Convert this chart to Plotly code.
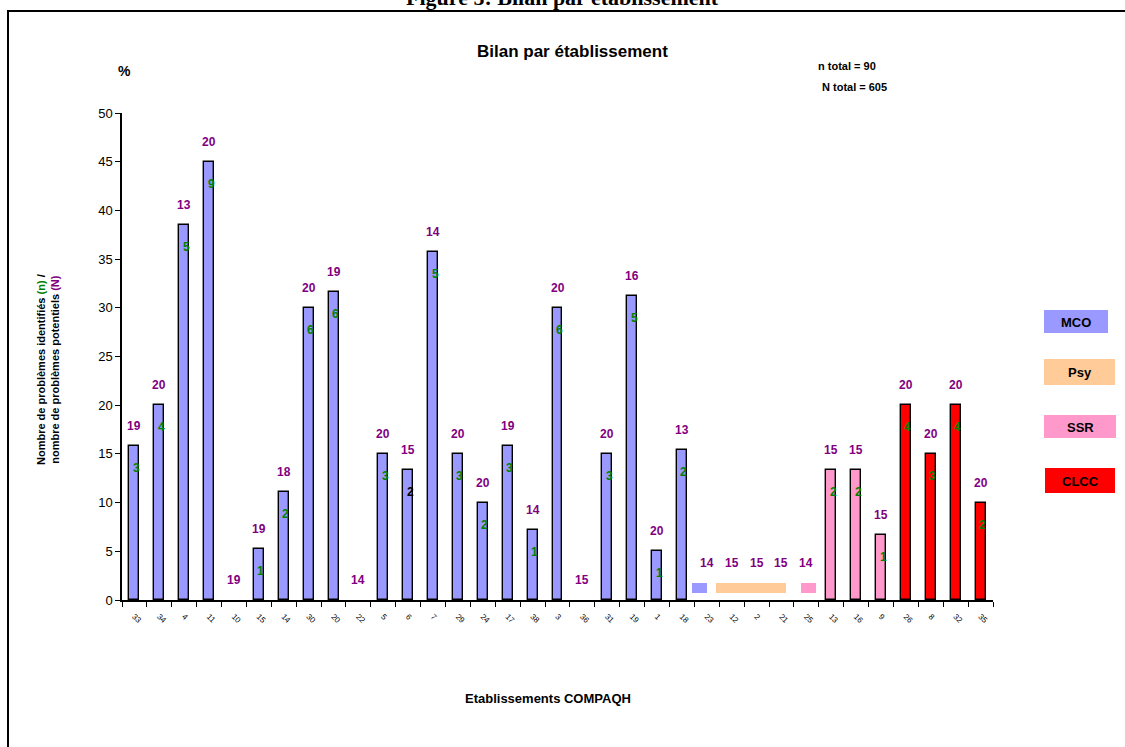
import plotly.graph_objects as go

# Establishment codes (x axis) and their category
codes = ["33", "34", "4", "11", "10", "15", "14", "30", "20", "22", "5", "6",
         "7", "29", "24", "17", "38", "3", "36", "31", "19", "1", "18", "23",
         "12", "2", "21", "25", "13", "16", "9", "26", "8", "32", "35"]
groups = ["MCO"] * 24 + ["Psy"] * 3 + ["SSR"] * 4 + ["CLCC"] * 4

# n = problems identified, N = potential problems
n_found = [3, 4, 5, 9, 0, 1, 2, 6, 6, 0, 3, 2, 5, 3, 2, 3, 1, 6, 0, 3, 5, 1, 2, 0,
           0, 0, 0, 0, 2, 2, 1, 4, 3, 4, 2]
n_potential = [19, 20, 13, 20, 19, 19, 18, 20, 19, 14, 20, 15, 14, 20, 20, 19, 14,
               20, 15, 20, 16, 20, 13, 14, 15, 15, 15, 14, 15, 15, 15, 20, 20, 20, 20]

group_names = ["MCO", "Psy", "SSR", "CLCC"]
group_colors = {"MCO": "#9999FF", "Psy": "#FFCC99", "SSR": "#FF99CC", "CLCC": "#FF0000"}

pct = [100.0 * a / b for a, b in zip(n_found, n_potential)]

# Plot-area geometry in pixels
W, H = 1125, 747
L, R, T, B = 122, 993, 113, 600
def px_x(p):
    return (p - L) / (R - L)
def px_y(p):
    return (B - p) / (B - T)

FONT = "Liberation Sans, Arial, sans-serif"
PURPLE = "#800080"
GREEN = "#008000"
idx = list(range(len(codes)))

fig = go.Figure()

fig.add_trace(go.Bar(
    x=codes, y=[p if p > 0 else None for p in pct],
    marker=dict(color=[group_colors[g] for g in groups],
                line=dict(color="black", width=1.4)),
    width=0.4, hoverinfo="x+y", showlegend=False,
))

# Flat markers for establishments with no identified problem (MCO, Psy, SSR)
zero_marks = [
    (23, -0.58, 0.58, "MCO"),
    (24, -0.64, 2.84, "Psy"),
    (27, -0.23, 0.60, "SSR"),
]
mark_base, mark_h = 0.75, 0.96
fig.add_trace(go.Bar(
    x=[codes[i] for i, _, _, _ in zero_marks],
    y=[mark_h] * len(zero_marks),
    base=[mark_base] * len(zero_marks),
    offset=[o for _, o, _, _ in zero_marks],
    width=[w for _, _, w, _ in zero_marks],
    marker=dict(color=[group_colors[g] for _, _, _, g in zero_marks], line=dict(width=0)),
    hoverinfo="skip", showlegend=False,
))

marked = set()
for i, _, w, _ in zero_marks:
    for k in range(max(int(round(w)), 1)):
        marked.add(i + k)

annotations = []
for i, p, a, b in zip(idx, pct, n_found, n_potential):
    ytop = mark_base + mark_h if (a == 0 and i in marked) else p
    annotations.append(dict(
        x=i, y=ytop, yshift=20, text=f"<b>{b}</b>", showarrow=False,
        xanchor="center", yanchor="middle",
        font=dict(family=FONT, size=12, color=PURPLE)))
    if a > 0:
        annotations.append(dict(
            x=i, y=p, yshift=-22, xshift=2, text=f"<b>{a}</b>", showarrow=False,
            xanchor="center", yanchor="middle",
            font=dict(family=FONT, size=12, color="black" if i == 11 else GREEN)))

def page_text(x, y, text, size, family=FONT, angle=0):
    return dict(xref="paper", yref="paper", x=px_x(x), y=px_y(y), text=text,
                showarrow=False, xanchor="center", yanchor="middle", textangle=angle,
                font=dict(family=family, size=size, color="black"))

# Titles and texts
annotations += [
    page_text(562, -3, "<b>Figure 5: Bilan par établissement</b>", 22,
              family="Liberation Serif, Times New Roman, serif"),
    page_text(572, 52, "<b>Bilan par établissement</b>", 17),
    page_text(124, 71, "<b>%</b>", 14),
    page_text(847, 66, "<b>n total = 90</b>", 11),
    page_text(854, 87, "<b>N total = 605</b>", 11),
    page_text(48, 370,
              ("<b>Nombre de problèmes identifiés <span style='color:%s'>(n)</span> /<br>"
               "nombre de problèmes potentiels <span style='color:%s'>(N)</span></b>") % (GREEN, PURPLE),
              11, angle=-90),
    page_text(548, 698, "<b>Etablissements COMPAQH</b>", 13),
]

# Category key boxes on the right
shapes = []
key_boxes = [(1044, 1108, 310, 333), (1044, 1115, 359, 385), (1044, 1116, 415, 438), (1045, 1115, 468, 493)]
for name, (x0, x1, y0, y1) in zip(group_names, key_boxes):
    shapes.append(dict(type="rect", xref="paper", yref="paper",
                       x0=px_x(x0), x1=px_x(x1), y0=px_y(y1), y1=px_y(y0),
                       fillcolor=group_colors[name], line=dict(width=0), layer="below"))
    annotations.append(page_text((x0 + x1) / 2, (y0 + y1) / 2 + 1, f"<b>{name}</b>", 13))

# Outer frame
shapes.append(dict(type="rect", xref="paper", yref="paper",
                   x0=px_x(8), x1=px_x(1140), y0=px_y(760), y1=px_y(11),
                   line=dict(color="black", width=2), fillcolor="rgba(0,0,0,0)", layer="below"))

fig.update_layout(
    width=W, height=H,
    margin=dict(l=L, r=W - R, t=T, b=H - B),
    paper_bgcolor="white", plot_bgcolor="white",
    bargap=0, barmode="overlay",
    annotations=annotations, shapes=shapes,
    font=dict(family=FONT, color="black"),
)
fig.update_xaxes(
    type="category", range=[-0.5, len(codes) - 0.5],
    showline=True, linecolor="black", linewidth=1.5,
    ticks="outside", ticklen=5, tickcolor="black", tickson="boundaries",
    tickangle=45, tickfont=dict(family=FONT, size=8, color="black"),
    ticklabelstandoff=7,
    showgrid=False, zeroline=False,
)
fig.update_yaxes(
    range=[0, 50], dtick=5, tick0=0,
    showline=True, linecolor="black", linewidth=1.5,
    ticks="outside", ticklen=5, tickcolor="black",
    tickfont=dict(family=FONT, size=13, color="black"),
    showgrid=False, zeroline=False,
)

fig.write_html("out.html")
